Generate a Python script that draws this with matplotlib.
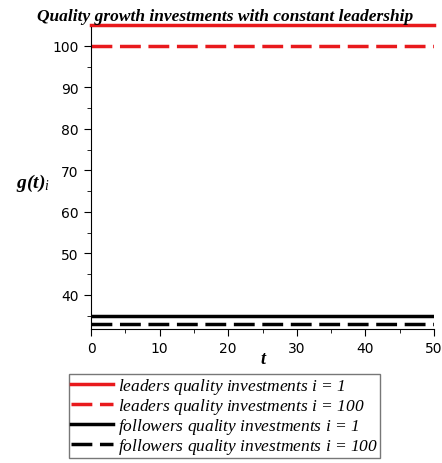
import matplotlib.pyplot as plt
from matplotlib.ticker import MultipleLocator

t = [0, 50]
leaders_i1 = [105.0, 105.0]
leaders_i100 = [100.0, 100.0]
followers_i1 = [34.8, 34.8]
followers_i100 = [33.1, 33.1]

labels = [
    r'leaders quality investments $i$ = 1',
    r'leaders quality investments $i$ = 100',
    r'followers quality investments $i$ = 1',
    r'followers quality investments $i$ = 100',
]

plt.rcParams['mathtext.fontset'] = 'custom'
plt.rcParams['mathtext.rm'] = 'Liberation Serif'
plt.rcParams['mathtext.it'] = 'Liberation Serif:italic'
plt.rcParams['mathtext.bf'] = 'Liberation Serif:bold:italic'
plt.rcParams['font.family'] = 'DejaVu Sans'

fig = plt.figure(figsize=(4.42, 4.64), dpi=100)
ax = fig.add_axes([0.206, 0.289, 0.776, 0.651])

dash = (0, (6, 2.2))
ax.plot(t, leaders_i1, color='#e8191c', lw=2.5, label=labels[0], clip_on=False)
ax.plot(t, leaders_i100, color='#e8191c', lw=2.5, ls=dash, label=labels[1])
ax.plot(t, followers_i1, color='black', lw=2.5, label=labels[2])
ax.plot(t, followers_i100, color='black', lw=2.5, ls=dash, label=labels[3])

ax.set_xlim(0, 50)
ax.set_ylim(31.8, 104.6)
ax.xaxis.set_major_locator(MultipleLocator(10))
ax.xaxis.set_minor_locator(MultipleLocator(5))
ax.yaxis.set_major_locator(MultipleLocator(10))
ax.yaxis.set_minor_locator(MultipleLocator(5))
ax.spines['top'].set_visible(False)
ax.spines['right'].set_visible(False)
ax.tick_params(which='both', direction='out', labelsize=10, pad=4)
ax.tick_params(which='major', length=5)
ax.tick_params(which='minor', length=3)

ax.set_title('Quality growth investments with constant leadership',
             family='Liberation Serif', style='italic', weight='bold', fontsize=12.5,
             x=0.39, pad=5)
ax.set_xlabel('t', family='Liberation Serif', style='italic', weight='bold',
              fontsize=13, labelpad=-4)
fig.text(0.075, 0.605, r'$\mathbf{g(t)}_{i}$', fontsize=14, ha='center', va='center')

leg = ax.legend(loc='upper center', bbox_to_anchor=(0.39, -0.15), ncol=1,
                frameon=True, fancybox=False, edgecolor='#555555',
                prop={'family': 'Liberation Serif', 'style': 'italic', 'size': 12.5},
                handlelength=2.4, handletextpad=0.3, borderpad=0.12,
                labelspacing=0.0, borderaxespad=0)
leg.get_frame().set_linewidth(1.0)

fig.savefig('out.png', dpi=100)
